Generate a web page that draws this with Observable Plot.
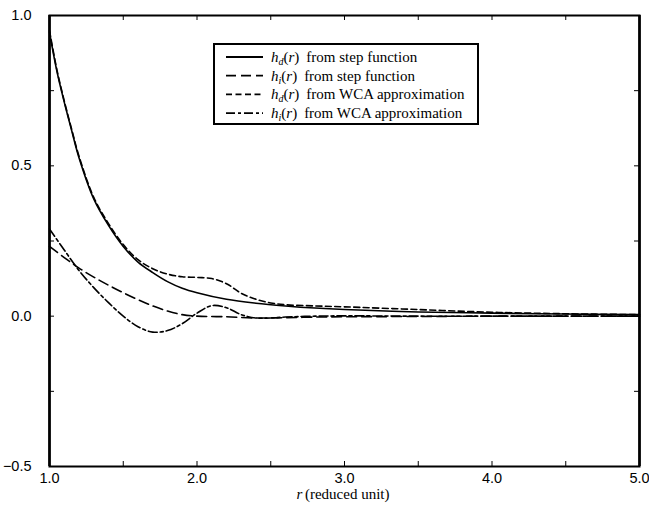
<!DOCTYPE html>
<html><head><meta charset="utf-8">
<script src="https://cdn.jsdelivr.net/npm/d3@7"></script>
<script src="https://cdn.jsdelivr.net/npm/@observablehq/plot@0.6"></script>
<style>
body{margin:0;background:#fff}
#chart{width:649px;height:508px}
</style>
</head><body><div id="chart"></div>
<script>
// ---- data ----
const rHdStep = [1.0,1.05,1.1,1.15,1.2,1.3,1.4,1.5,1.6,1.7,1.8,1.9,2.0,2.2,2.4,2.6,2.8,3.0,3.5,4.0,4.5,5.0];
const hdStep  = [0.945,0.815,0.712,0.618,0.527,0.39,0.302,0.232,0.18,0.145,0.115,0.093,0.078,0.056,0.043,0.034,0.027,0.022,0.014,0.010,0.007,0.005];

const rHiStep = [1.0,1.1,1.2,1.3,1.4,1.5,1.6,1.7,1.8,1.9,2.0,2.2,2.4,2.6,2.8,3.0,3.5,4.0,5.0];
const hiStep  = [0.232,0.195,0.16,0.13,0.103,0.078,0.055,0.034,0.017,0.005,0.0,-0.002,-0.006,-0.005,-0.003,-0.002,-0.001,0,0];

const rHdWca = [1.0,1.05,1.1,1.15,1.2,1.3,1.4,1.5,1.6,1.7,1.8,1.9,2.0,2.1,2.2,2.3,2.4,2.5,2.6,2.8,3.0,3.5,4.0,4.5,5.0];
const hdWca  = [0.95,0.82,0.716,0.622,0.532,0.395,0.308,0.238,0.188,0.158,0.14,0.131,0.129,0.125,0.108,0.076,0.056,0.044,0.038,0.034,0.031,0.022,0.013,0.008,0.005];

const rHiWca = [1.0,1.1,1.2,1.3,1.4,1.5,1.6,1.7,1.8,1.9,2.0,2.1,2.2,2.3,2.4,2.5,2.6,2.8,3.0,3.5,4.0,5.0];
const hiWca  = [0.29,0.22,0.152,0.095,0.045,0.0,-0.035,-0.053,-0.048,-0.025,0.01,0.035,0.028,0.005,-0.006,-0.006,-0.003,0.0,0.001,0,0,0];

const seriesNames = ["hd-step","hi-step","hd-wca","hi-wca"];
const legendSub   = ["d","i","d","i"];
const legendRest  = ["from step function","from step function","from WCA approximation","from WCA approximation"];
const dashes      = ["none","10,5","6,3.5","9,3,3,3"];

const xTicks = [1,2,3,4,5];
const xTickLabels = ["1.0","2.0","3.0","4.0","5.0"];
const yTicks = [-0.5,0,0.5,1];
const yTickLabels = ["\u22120.5","0.0","0.5","1.0"];
const xMinor = [1.5,2,2.5,3,3.5,4,4.5];
const yMinor = [-0.25,0,0.25,0.5,0.75];

// ---- build table ----
const rs = [rHdStep, rHiStep, rHdWca, rHiWca];
const hs = [hdStep, hiStep, hdWca, hiWca];
const table = [];
seriesNames.forEach((s, k) => rs[k].forEach((r, i) => table.push({series: s, r, h: hs[k][i]})));

const W = 649, H = 508, mT = 15, mB = 42, mL = 49, mR = 10;
const fw = W - mL - mR, fh = H - mT - mB, tk = 5;

const lineMarks = seriesNames.map((s, k) =>
  Plot.line(table.filter(d => d.series === s), {
    x: "r", y: "h", stroke: "black", strokeWidth: 1.6,
    strokeDasharray: dashes[k] === "none" ? null : dashes[k],
    curve: "catmull-rom"
  }));

const svg = Plot.plot({
  width: W, height: H,
  marginTop: mT, marginBottom: mB, marginLeft: mL, marginRight: mR,
  x: {domain: [1, 5]},
  y: {domain: [-0.5, 1]},
  style: {background: "white", color: "black"},
  marks: [
    ...lineMarks,
    Plot.tickX(xMinor, {x: d => d, insetTop: fh - tk, stroke: "black"}),
    Plot.tickX(xMinor, {x: d => d, insetBottom: fh - tk, stroke: "black"}),
    Plot.tickY(yMinor, {y: d => d, insetRight: fw - tk, stroke: "black"}),
    Plot.tickY(yMinor, {y: d => d, insetLeft: fw - tk, stroke: "black"}),
    Plot.frame({stroke: "black", strokeWidth: 2}),
    Plot.ruleX([1, 5], {stroke: "black", strokeWidth: 2.6}),
    Plot.axisX(xTicks, {tickSize: 0, tickPadding: 6, label: null,
      tickFormat: d => xTickLabels[xTicks.indexOf(d)],
      fontSize: 14.5, fontFamily: "Liberation Sans, Arial, sans-serif"}),
    Plot.axisY(yTicks, {tickSize: 0, tickPadding: 18, label: null,
      tickFormat: d => yTickLabels[yTicks.indexOf(d)],
      fontSize: 14.5, fontFamily: "Liberation Sans, Arial, sans-serif"}),
    Plot.text(["r"], {frameAnchor: "bottom", dy: 32, dx: -48, textAnchor: "start",
      fontStyle: "italic", fontSize: 15, fontFamily: "Liberation Serif, Times New Roman, serif"}),
    Plot.text(["(reduced unit)"], {frameAnchor: "bottom", dy: 32, dx: 45, textAnchor: "end",
      fontSize: 15, fontFamily: "Liberation Serif, Times New Roman, serif"})
  ]
});
document.getElementById("chart").appendChild(svg);

// ---- legend (inside the frame) ----
const g = d3.select(svg).append("g")
  .attr("font-family", "Liberation Serif, Times New Roman, serif")
  .attr("font-size", 15)
  .attr("text-anchor", "start");
g.append("rect").attr("x", 214).attr("y", 44).attr("width", 264).attr("height", 80)
  .attr("fill", "white").attr("stroke", "black").attr("stroke-width", 2);
seriesNames.forEach((s, k) => {
  const cy = 57 + 18.7 * k;
  g.append("line").attr("x1", 226).attr("x2", 263).attr("y1", cy).attr("y2", cy)
    .attr("stroke", "black").attr("stroke-width", 1.8)
    .attr("stroke-dasharray", dashes[k] === "none" ? null : dashes[k]);
  const t = g.append("text").attr("x", 271).attr("y", cy + 5).attr("text-anchor", "start");
  t.append("tspan").attr("font-style", "italic").text("h");
  t.append("tspan").attr("font-style", "italic").attr("font-size", 10).attr("dy", 3).text(legendSub[k]);
  t.append("tspan").attr("dy", -3).text("(");
  t.append("tspan").attr("font-style", "italic").text("r");
  t.append("tspan").text(")");
  t.append("tspan").attr("dx", 7).text(legendRest[k]);
});
</script>
</body></html>
